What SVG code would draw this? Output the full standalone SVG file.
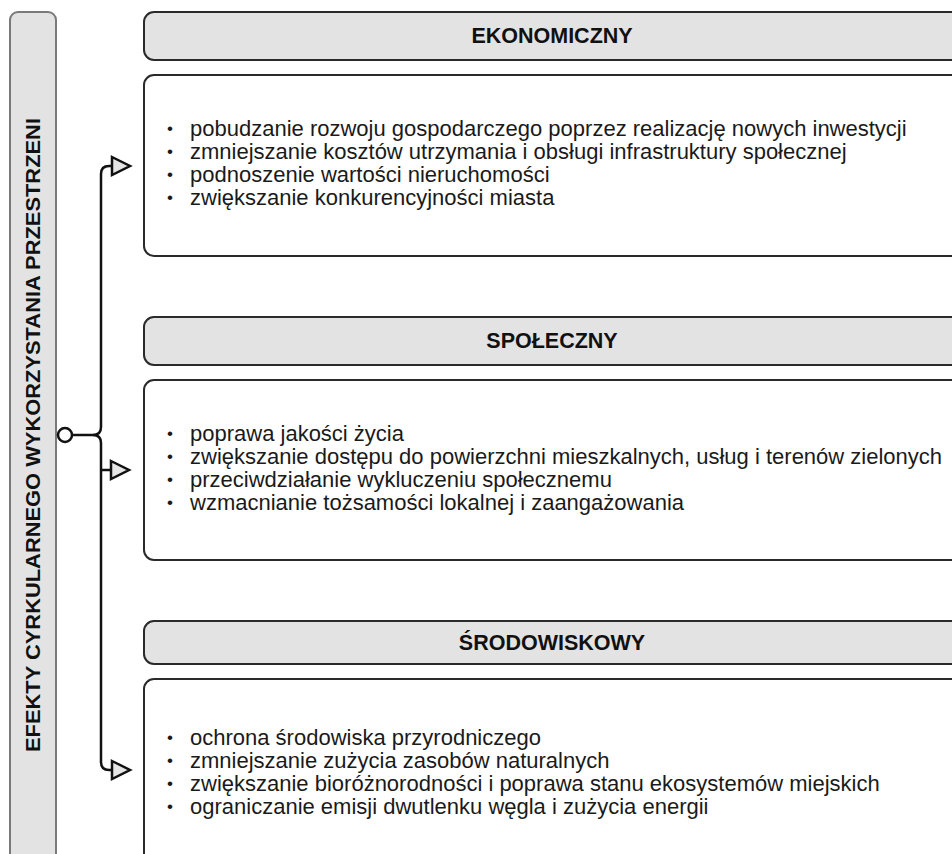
<svg xmlns="http://www.w3.org/2000/svg" width="952" height="854" viewBox="0 0 952 854">
<defs>
<style>
.hdr{fill:#e3e3e3;stroke:#2a2a2a;stroke-width:2}
.box{fill:#ffffff;stroke:#2a2a2a;stroke-width:2}
.side{fill:#e3e3e3;stroke:#7a7a7a;stroke-width:2}
.ht{font-family:"Liberation Sans",Arial,sans-serif;font-weight:bold;font-size:21.5px;fill:#111;text-anchor:middle}
.bt{font-family:"Liberation Sans",Arial,sans-serif;font-size:22px;fill:#1a1a1a}
.bu{font-size:17px}
.vt{font-family:"Liberation Sans",Arial,sans-serif;font-weight:bold;font-size:20px;fill:#111;text-anchor:middle}
.con{fill:none;stroke:#111;stroke-width:2.5}
</style>
<marker id="arr" markerUnits="userSpaceOnUse" markerWidth="24" markerHeight="24" viewBox="-2 -11 24 22" refX="0" refY="0" orient="auto">
<path d="M0,-9 L18,0 L0,9 Z" fill="#e6e6e6" stroke="#111" stroke-width="2.5" stroke-linejoin="miter"/>
</marker>
</defs>
<rect width="952" height="854" fill="#ffffff"/>

<g id="side">
<rect class="side" x="10" y="12" width="46" height="860" rx="8"/>
<text class="vt" transform="translate(40,435) rotate(-90)" textLength="634" lengthAdjust="spacingAndGlyphs">EFEKTY CYRKULARNEGO WYKORZYSTANIA PRZESTRZENI</text>
</g>

<g id="hdr-ekonomiczny">
<rect class="hdr" x="144" y="12" width="830" height="48" rx="10"/>
<text class="ht" x="552" y="43">EKONOMICZNY</text>
</g>
<g id="box-ekonomiczny">
<rect class="box" x="144" y="75" width="830" height="181" rx="10"/>
<text class="bt"><tspan class="bu" x="167" y="134">•</tspan><tspan x="190" y="136">pobudzanie rozwoju gospodarczego poprzez realizację nowych inwestycji</tspan></text>
<text class="bt"><tspan class="bu" x="167" y="157">•</tspan><tspan x="190" y="159">zmniejszanie kosztów utrzymania i obsługi infrastruktury społecznej</tspan></text>
<text class="bt"><tspan class="bu" x="167" y="180">•</tspan><tspan x="190" y="182">podnoszenie wartości nieruchomości</tspan></text>
<text class="bt"><tspan class="bu" x="167" y="203">•</tspan><tspan x="190" y="205">zwiększanie konkurencyjności miasta</tspan></text>
</g>

<g id="hdr-spoleczny">
<rect class="hdr" x="144" y="317" width="830" height="48" rx="10"/>
<text class="ht" x="552" y="348">SPOŁECZNY</text>
</g>
<g id="box-spoleczny">
<rect class="box" x="144" y="380" width="830" height="180" rx="10"/>
<text class="bt"><tspan class="bu" x="167" y="439">•</tspan><tspan x="190" y="441">poprawa jakości życia</tspan></text>
<text class="bt"><tspan class="bu" x="167" y="462">•</tspan><tspan x="190" y="464">zwiększanie dostępu do powierzchni mieszkalnych, usług i terenów zielonych</tspan></text>
<text class="bt"><tspan class="bu" x="167" y="485">•</tspan><tspan x="190" y="487">przeciwdziałanie wykluczeniu społecznemu</tspan></text>
<text class="bt"><tspan class="bu" x="167" y="508">•</tspan><tspan x="190" y="510">wzmacnianie tożsamości lokalnej i zaangażowania</tspan></text>
</g>

<g id="hdr-srodowiskowy">
<rect class="hdr" x="144" y="621" width="830" height="43" rx="10"/>
<text class="ht" x="552" y="650">ŚRODOWISKOWY</text>
</g>
<g id="box-srodowiskowy">
<rect class="box" x="144" y="679" width="830" height="200" rx="10"/>
<text class="bt"><tspan class="bu" x="167" y="743">•</tspan><tspan x="190" y="745">ochrona środowiska przyrodniczego</tspan></text>
<text class="bt"><tspan class="bu" x="167" y="766">•</tspan><tspan x="190" y="768">zmniejszanie zużycia zasobów naturalnych</tspan></text>
<text class="bt"><tspan class="bu" x="167" y="789">•</tspan><tspan x="190" y="791">zwiększanie bioróżnorodności i poprawa stanu ekosystemów miejskich</tspan></text>
<text class="bt"><tspan class="bu" x="167" y="812">•</tspan><tspan x="190" y="814">ograniczanie emisji dwutlenku węgla i zużycia energii</tspan></text>
</g>

<g id="connectors">
<circle cx="65" cy="435" r="7" fill="#ffffff" stroke="#111" stroke-width="2.5"/>
<path class="con" d="M72,435 H93 Q101,435 101,427 V174 Q101,166 109,166 H112" marker-end="url(#arr)"/>
<path class="con" d="M93,435 Q101,435 101,443 V762 Q101,770 109,770 H112" marker-end="url(#arr)"/>
<path class="con" d="M101,470 H111" marker-end="url(#arr)"/>
</g>
</svg>
